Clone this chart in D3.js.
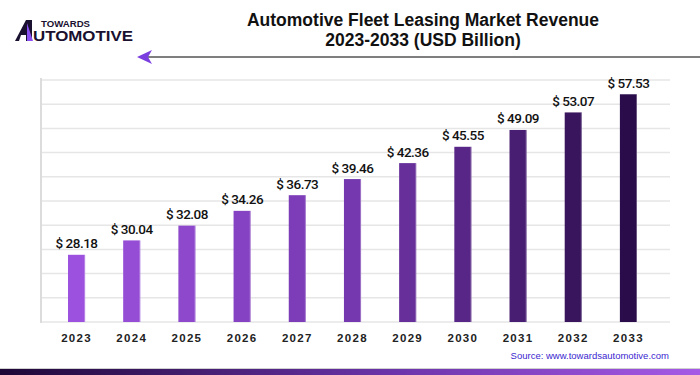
<!DOCTYPE html>
<html>
<head>
  <meta charset="utf-8">
  <script src="https://cdn.jsdelivr.net/npm/d3@7/dist/d3.min.js"></script>
  <style>
    body { margin: 0; background: #fff; }
    svg { display: block; font-family: "Liberation Sans", Arial, sans-serif; }
  </style>
</head>
<body>
  <script>
    const years = ['2023', '2024', '2025', '2026', '2027', '2028', '2029', '2030', '2031', '2032', '2033']
    const revenue = [28.18, 30.04, 32.08, 34.26, 36.73, 39.46, 42.36, 45.55, 49.09, 53.07, 57.53]
    const barColors = ['#9d52df', '#7538ae', '#2a0c4a']
    const titleLines = ['Automotive Fleet Leasing Market Revenue', '2023-2033 (USD Billion)']
    const source = 'Source: www.towardsautomotive.com'

    const W = 700, H = 375
    const plotL = 41, plotR = 670, plotT = 80, plotB = 322

    const svg = d3.select('body').append('svg')
      .attr('width', W)
      .attr('height', H)

    const defs = svg.append('defs')
    const band = defs.append('linearGradient').attr('id', 'band')
    band.append('stop').attr('offset', '0%').attr('stop-color', '#1d0736')
    band.append('stop').attr('offset', '55%').attr('stop-color', '#6a33a8')
    band.append('stop').attr('offset', '100%').attr('stop-color', '#a65ae6')

    // logo
    const logo = svg.append('g')
    logo.append('polygon')
      .attr('points', '15,41 26,20 32,20 32,41 26,41 26,35 21,35 19,41')
      .attr('fill', '#1a1030')
    logo.append('polygon')
      .attr('points', '27,23 33,41 27,41')
      .attr('fill', '#8a4ff0')
    logo.append('text')
      .attr('x', 41).attr('y', 27)
      .attr('font-size', 8.5).attr('font-weight', 900)
      .attr('textLength', 49).attr('lengthAdjust', 'spacingAndGlyphs')
      .attr('fill', '#1a1030')
      .text('TOWARDS')
    logo.append('text')
      .attr('x', 33).attr('y', 41)
      .attr('font-size', 14.5).attr('font-weight', 900)
      .attr('textLength', 100).attr('lengthAdjust', 'spacingAndGlyphs')
      .attr('fill', '#1a1030')
      .text('UTOMOTIVE')

    // title
    svg.append('g').selectAll('text')
      .data(titleLines)
      .join('text')
      .attr('x', 423)
      .attr('y', (d, i) => 26 + i * 20)
      .attr('text-anchor', 'middle')
      .attr('font-size', 17.5)
      .attr('font-weight', 700)
      .attr('fill', '#111')
      .text(d => d)

    // arrow line under the title
    svg.append('line')
      .attr('x1', 148).attr('x2', W)
      .attr('y1', 57).attr('y2', 57)
      .attr('stroke', '#555')
      .attr('stroke-width', 1.5)
    svg.append('polygon')
      .attr('points', '137,57 152,50 148,57 152,64')
      .attr('fill', '#7b3fe0')

    // scales
    const x = d3.scaleBand()
      .domain(years)
      .range([68, 637])
      .paddingInner(0.69)
      .paddingOuter(0)

    const y = d3.scaleLog()
      .domain([20.9, 61.3])
      .range([plotB, plotT])

    const grid = d3.scaleLinear().domain([0, 10]).range([plotB, plotT])

    const color = d3.scaleLinear()
      .domain([0, 5, 10])
      .range(barColors)
      .interpolate(d3.interpolateRgb)

    // gridlines
    svg.append('g').selectAll('line')
      .data(d3.range(0, 11))
      .join('line')
      .attr('x1', plotL).attr('x2', plotR)
      .attr('y1', d => grid(d)).attr('y2', d => grid(d))
      .attr('stroke', '#e6e6e6')
      .attr('stroke-width', 1.5)

    svg.append('line')
      .attr('x1', plotL).attr('x2', plotL)
      .attr('y1', plotT - 2).attr('y2', plotB + 1)
      .attr('stroke', '#dcdcdc')
      .attr('stroke-width', 2)

    // bars
    const bars = svg.append('g').selectAll('g')
      .data(years.map((yr, i) => ({ yr, v: revenue[i], i })))
      .join('g')

    bars.append('rect')
      .attr('x', d => x(d.yr))
      .attr('y', d => y(d.v))
      .attr('width', x.bandwidth())
      .attr('height', d => plotB - y(d.v))
      .attr('fill', d => color(d.i))

    bars.append('rect')
      .attr('x', d => x(d.yr) + x.bandwidth() - 1)
      .attr('y', d => y(d.v))
      .attr('width', 1)
      .attr('height', d => plotB - y(d.v))
      .attr('fill', '#ffffff')
      .attr('opacity', 0.3)

    bars.append('text')
      .attr('x', d => x(d.yr) + x.bandwidth() / 2)
      .attr('y', d => y(d.v) - 6.5)
      .attr('text-anchor', 'middle')
      .attr('font-family', 'Roboto, sans-serif')
      .attr('font-size', 13.5)
      .attr('font-weight', 500)
      .attr('letter-spacing', -0.5)
      .attr('fill', '#111')
      .text(d => '$ ' + d3.format('.2f')(d.v))

    // x axis labels
    svg.append('g').selectAll('text')
      .data(years)
      .join('text')
      .attr('x', d => x(d) + x.bandwidth() / 2)
      .attr('y', 342)
      .attr('text-anchor', 'middle')
      .attr('font-size', 11.5)
      .attr('font-weight', 700)
      .attr('letter-spacing', 1.3)
      .attr('fill', '#222')
      .text(d => d)

    // source
    svg.append('text')
      .attr('x', 669).attr('y', 359)
      .attr('text-anchor', 'end')
      .attr('font-size', 9.5)
      .attr('fill', '#3b1fd0')
      .text(source)

    // bottom band
    svg.append('line')
      .attr('x1', 0).attr('x2', W)
      .attr('y1', 368.5).attr('y2', 368.5)
      .attr('stroke', '#d0d0d0')
    svg.append('rect')
      .attr('x', 0).attr('y', 369)
      .attr('width', W).attr('height', 6)
      .attr('fill', 'url(#band)')
  </script>
</body>
</html>
